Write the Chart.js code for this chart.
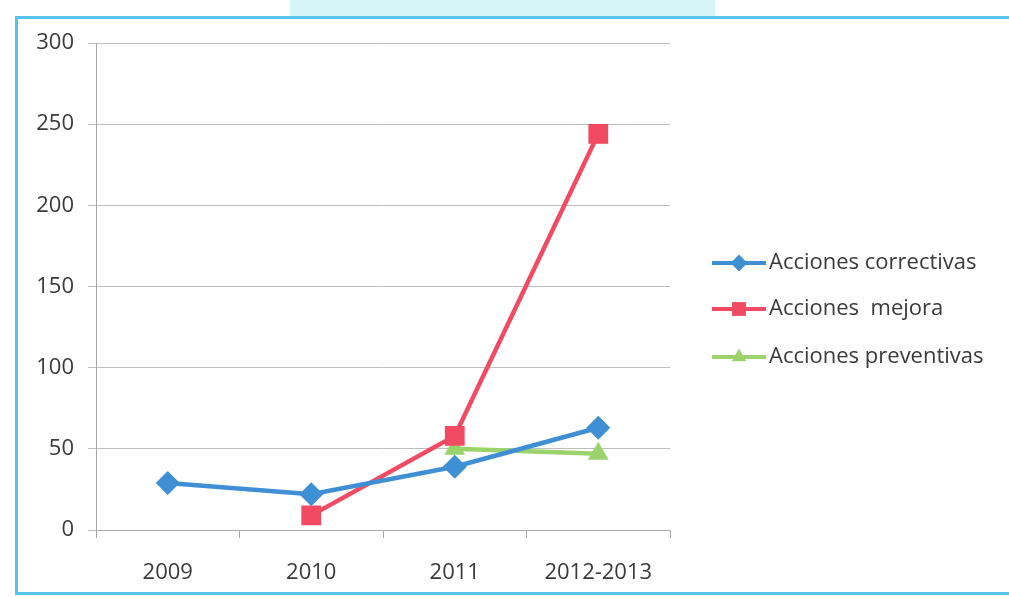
<!DOCTYPE html>
<html>
<head>
<meta charset="utf-8">
<script src="https://cdn.jsdelivr.net/npm/chart.js@4/dist/chart.umd.min.js"></script>
<style>
  html, body { margin: 0; padding: 0; background: #fff; }
  #wrap { position: relative; width: 1009px; height: 598px; overflow: hidden; }
  #band  { position: absolute; left: 290px; top: 0; width: 425px; height: 16px; background: #d6f5f6; }
  #frame { position: absolute; left: 15px; top: 16px; width: 1010px; height: 573px;
           border: 3px solid #55c3ea; box-sizing: content-box; }
  #chart { position: absolute; left: 0; top: 0; }
</style>
</head>
<body>
<div id="wrap">
  <div id="band"></div>
  <div id="frame"></div>
  <canvas id="chart" width="1009" height="598"></canvas>
</div>
<script>
/* ───────────────────────────── data */
const years       = ['2009', '2010', '2011', '2012-2013'];
const correctivas = [29, 22, 39, 63];
const mejora      = [null, 9, 58, 244];
const preventivas = [null, null, 50, 47];
const yTicks      = [0, 50, 100, 150, 200, 250, 300];

const FONT = "'Open Sans', 'DejaVu Sans', sans-serif";
const TXT  = '#3a3a3a';

const series = [
  { label: 'Acciones correctivas', data: correctivas, color: '#3f8fd4', style: 'rectRot',  r: 12 },
  { label: 'Acciones  mejora',     data: mejora,      color: '#f24a62', style: 'rect',     r: 14 },
  { label: 'Acciones preventivas', data: preventivas, color: '#9ad36c', style: 'triangle', r: 12 }
];

/* ───────────────────────────── legend drawn at the right */
const sideLegend = {
  id: 'sideLegend',
  afterDraw(chart) {
    const ctx = chart.ctx;
    const x0 = 712, x1 = 766, rowY = [263, 309, 357];
    ctx.save();
    series.forEach((s, i) => {
      const y = rowY[i];
      ctx.strokeStyle = s.color;
      ctx.lineWidth = 4;
      ctx.beginPath();
      ctx.moveTo(x0, y);
      ctx.lineTo(x1, y);
      ctx.stroke();
      ctx.fillStyle = s.color;
      Chart.helpers.drawPoint(ctx, {
        pointStyle: s.style, radius: s.r * 0.7, borderWidth: 0, rotation: 0
      }, (x0 + x1) / 2, y);
      ctx.fillStyle = TXT;
      ctx.font = '22px ' + FONT;
      ctx.textBaseline = 'middle';
      ctx.textAlign = 'left';
      ctx.fillText(s.label, x1 + 3, y);
    });
    ctx.restore();
  }
};

/* ───────────────────────────── chart */
const ctx = document.getElementById('chart').getContext('2d');
new Chart(ctx, {
  type: 'line',
  data: {
    labels: years,
    datasets: series.map(s => ({
      label: s.label,
      data: s.data,
      borderColor: s.color,
      backgroundColor: s.color,
      borderWidth: 4.5,
      pointStyle: s.style,
      pointRadius: s.r,
      pointBorderWidth: 0,
      tension: 0,
      spanGaps: false
    }))
  },
  options: {
    responsive: false,
    animation: false,
    devicePixelRatio: 1,
    layout: { padding: { top: 43, right: 339, bottom: 0, left: 0 } },
    plugins: { legend: { display: false }, tooltip: { enabled: false } },
    scales: {
      x: {
        offset: true,
        grid: { display: true, drawOnChartArea: false, color: '#a8a8a8', tickLength: 8, offset: true },
        border: { color: '#a8a8a8' },
        ticks: { color: TXT, font: { family: FONT, size: 22 }, padding: 22 },
        afterFit: s => { s.height = 68; }
      },
      y: {
        min: 0, max: 300,
        afterBuildTicks: s => { s.ticks = yTicks.map(v => ({ value: v })); },
        grid: { color: '#bdbdbd', tickLength: 8 },
        border: { color: '#a8a8a8' },
        ticks: { color: TXT, font: { family: FONT, size: 22 }, padding: 14 },
        afterFit: s => { s.width = 96; }
      }
    }
  },
  plugins: [sideLegend]
});
</script>
</body>
</html>
